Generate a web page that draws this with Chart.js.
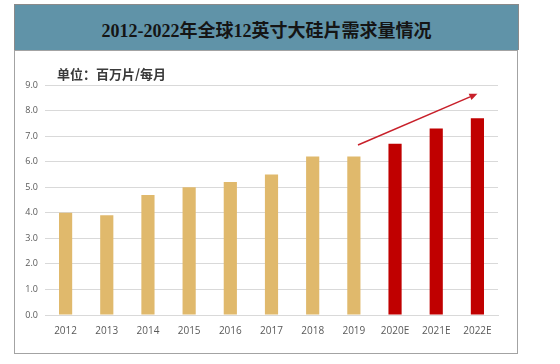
<!DOCTYPE html>
<html>
<head>
<meta charset="utf-8">
<script src="https://cdn.jsdelivr.net/npm/chart.js@4.4.1/dist/chart.umd.min.js"></script>
<style>
  html, body { margin: 0; padding: 0; background: #ffffff; width: 560px; height: 364px; overflow: hidden; }
  #titlebar {
    position: absolute; left: 14px; top: 4px; width: 503px; height: 45px;
    background: #6093a8; border: 1px solid #8a8a8a; border-bottom: none;
  }
  #titletext {
    position: absolute; left: 0; right: 0; top: 16px; text-align: center;
    font-family: "Liberation Serif", "Noto Sans CJK SC", serif; font-weight: bold;
    font-size: 18px; line-height: 20px; color: #151515;
  }
  #frame {
    position: absolute; left: 14px; top: 50px; width: 502px; height: 302px;
    border: 1px solid #a3a3a3; background: #ffffff;
  }
  #unit {
    position: absolute; left: 57px; top: 65px;
    font-family: "Noto Sans CJK SC", sans-serif; font-weight: bold; font-size: 13px;
    line-height: 18px; color: #3a3a3a;
  }
  #wrap { position: absolute; left: 15px; top: 51px; width: 502px; height: 302px; }
</style>
</head>
<body>
<div id="titlebar"><div id="titletext">2012-2022年全球12英寸大硅片需求量情况</div></div>
<div id="frame"></div>
<div id="wrap"><canvas id="c" width="502" height="302"></canvas></div>
<div id="unit">单位：百万片/每月</div>
<script>
// ---- data ----
const categories = ["2012", "2013", "2014", "2015", "2016", "2017", "2018", "2019", "2020E", "2021E", "2022E"];
const demandValues = [4.0, 3.9, 4.7, 5.0, 5.2, 5.5, 6.2, 6.2, 6.7, 7.3, 7.7];
const isForecast = [false, false, false, false, false, false, false, false, true, true, true];
const yTicks = [0, 1, 2, 3, 4, 5, 6, 7, 8, 9];
// trend arrow endpoints in data coordinates: [category index, value]
const arrowStart = [7.1, 6.65];
const arrowEnd = [10.0, 8.66];

const actualColor = "#e0b96c";
const forecastColor = "#c00000";

const arrowPlugin = {
  id: "trendArrow",
  afterDatasetsDraw(chart) {
    const { ctx, scales } = chart;
    const x1 = scales.x.getPixelForValue(arrowStart[0]);
    const y1 = scales.y.getPixelForValue(arrowStart[1]);
    const x2 = scales.x.getPixelForValue(arrowEnd[0]);
    const y2 = scales.y.getPixelForValue(arrowEnd[1]);
    const ang = Math.atan2(y2 - y1, x2 - x1);
    const head = 8, hw = 3.5;
    ctx.save();
    ctx.strokeStyle = "#c8202a";
    ctx.fillStyle = "#c8202a";
    ctx.lineWidth = 1.5;
    ctx.beginPath();
    ctx.moveTo(x1, y1);
    ctx.lineTo(x2 - head * Math.cos(ang), y2 - head * Math.sin(ang));
    ctx.stroke();
    ctx.beginPath();
    ctx.moveTo(x2, y2);
    ctx.lineTo(x2 - head * Math.cos(ang) + hw * Math.sin(ang), y2 - head * Math.sin(ang) - hw * Math.cos(ang));
    ctx.lineTo(x2 - head * Math.cos(ang) - hw * Math.sin(ang), y2 - head * Math.sin(ang) + hw * Math.cos(ang));
    ctx.closePath();
    ctx.fill();
    ctx.restore();
  }
};

new Chart(document.getElementById("c"), {
  type: "bar",
  data: {
    labels: categories,
    datasets: [{
      data: demandValues,
      backgroundColor: isForecast.map(f => f ? forecastColor : actualColor),
      categoryPercentage: 1.0,
      barPercentage: 0.32
    }]
  },
  options: {
    responsive: false,
    animation: false,
    devicePixelRatio: 1,
    layout: { padding: { left: 0, top: 34, right: 19, bottom: 6 } },
    plugins: { legend: { display: false }, tooltip: { enabled: false }, title: { display: false } },
    scales: {
      x: {
        grid: { display: false, drawTicks: false },
        border: { display: true, color: "#d9d9d9", width: 1 },
        ticks: { color: "#595959", font: { family: "Open Sans", size: 10 }, padding: 10, maxRotation: 0 }
      },
      y: {
        min: 0, max: 9,
        afterBuildTicks(scale) { scale.ticks = yTicks.map(v => ({ value: v })); },
        afterFit(scale) { scale.width = 30; },
        grid: { color: "#d9d9d9", lineWidth: 1, drawTicks: false },
        border: { display: false },
        ticks: {
          color: "#595959", font: { family: "Open Sans", size: 9 }, padding: 7,
          callback: v => v.toFixed(1)
        }
      }
    }
  },
  plugins: [arrowPlugin]
});
</script>
</body>
</html>
